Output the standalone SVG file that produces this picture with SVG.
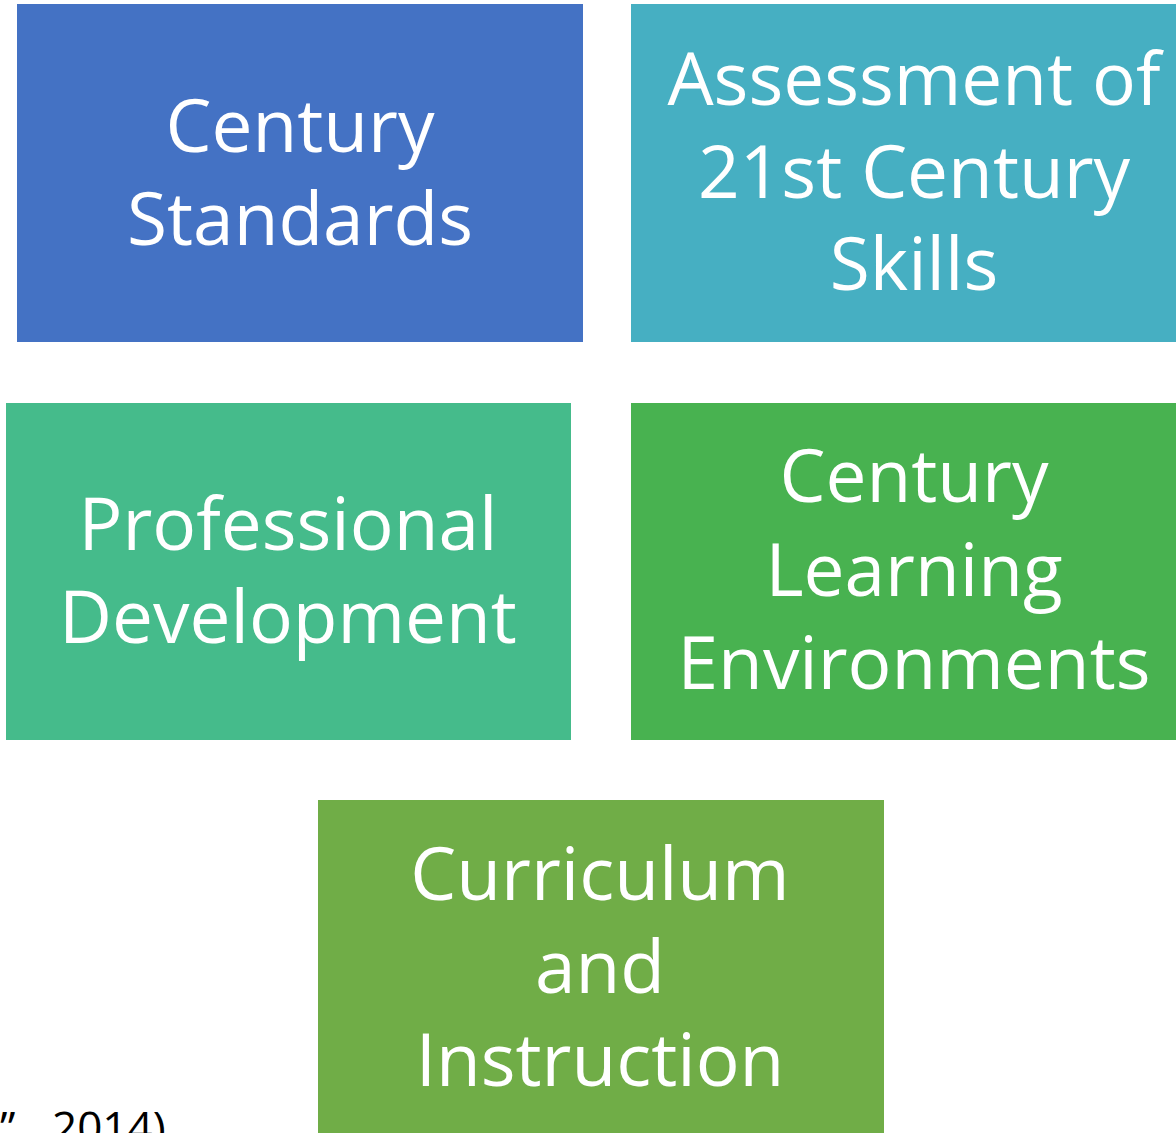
<svg xmlns="http://www.w3.org/2000/svg" width="1176" height="1133" viewBox="0 0 1176 1133">
<style>
.box{stroke:none}
.t{font-family:"Open Sans","Noto Sans","DejaVu Sans",sans-serif;font-size:73px;fill:#fff;text-anchor:middle}
.c{font-family:"Open Sans","Noto Sans","DejaVu Sans",sans-serif;font-size:44px;fill:#000}
</style>
<rect width="1176" height="1133" fill="#fff"/>
<text class="c" x="0" y="1143">”</text>
<text class="c" x="52" y="1143">2014)</text>
<g id="n1"><rect class="box" x="17" y="4" width="566" height="338" fill="#4472C4"/>
<text class="t" x="300" y="152">Century</text><text class="t" x="300" y="245">Standards</text></g>
<g id="n2"><rect class="box" x="631" y="4" width="566" height="338" fill="#46AFC2"/>
<text class="t" x="914" y="105">Assessment of</text><text class="t" x="914" y="198">21st Century</text><text class="t" x="914" y="290">Skills</text></g>
<g id="n3"><rect class="box" x="6" y="403" width="565" height="337" fill="#45BB8B"/>
<text class="t" x="288" y="550">Professional</text><text class="t" x="288" y="643">Development</text></g>
<g id="n4"><rect class="box" x="631" y="403" width="566" height="337" fill="#48B250"/>
<text class="t" x="914" y="502">Century</text><text class="t" x="914" y="596">Learning</text><text class="t" x="914" y="689">Environments</text></g>
<g id="n5"><rect class="box" x="318" y="800" width="566" height="340" fill="#70AD47"/>
<text class="t" x="600" y="900">Curriculum</text><text class="t" x="600" y="993">and</text><text class="t" x="600" y="1086">Instruction</text></g>
<g id="connectors"/>
</svg>
